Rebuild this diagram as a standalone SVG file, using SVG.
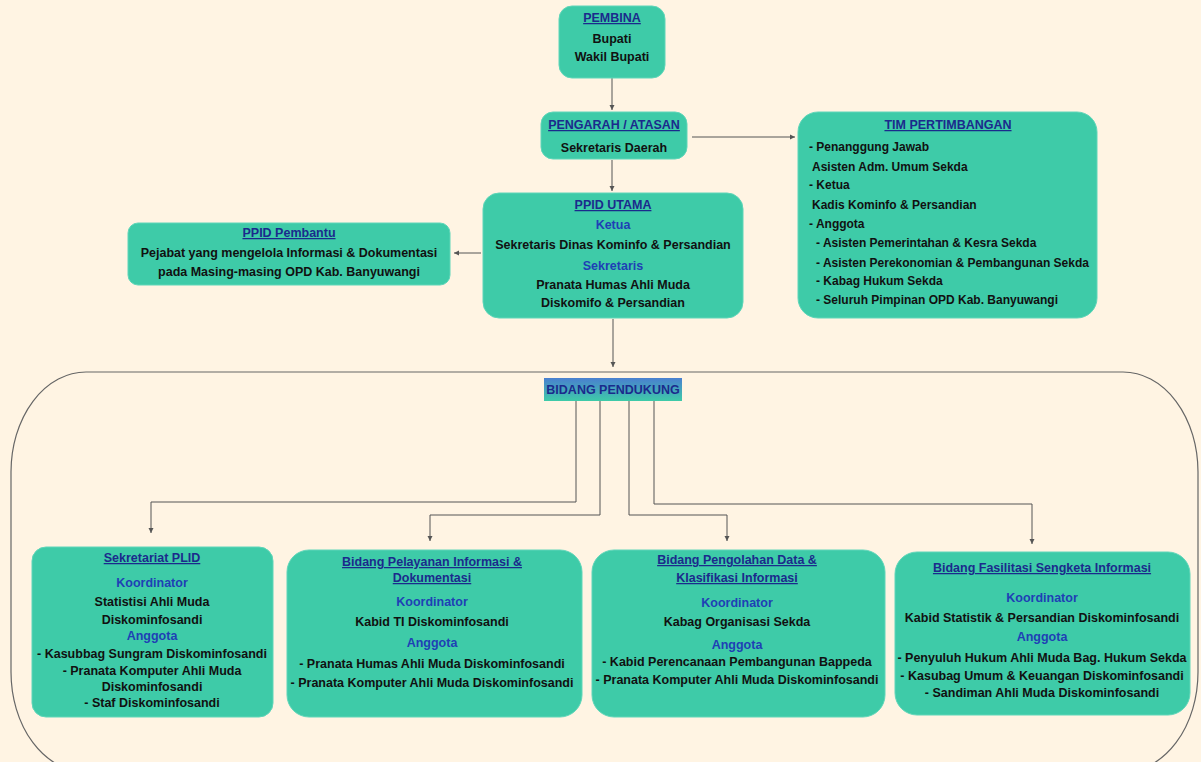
<svg xmlns="http://www.w3.org/2000/svg" width="1201" height="762" viewBox="0 0 1201 762">
<defs>
<marker id="ah" markerWidth="6" markerHeight="6" refX="5" refY="3" orient="auto" markerUnits="userSpaceOnUse">
<path d="M0,0.5 L5,3 L0,5.5 Z" fill="#555"/>
</marker>
<linearGradient id="lg" x1="0" y1="0" x2="0" y2="1">
<stop offset="0" stop-color="#4a7fd0"/>
<stop offset="1" stop-color="#3ecba8"/>
</linearGradient>
<style>
.bx{fill:#3ecba8;stroke:#5fd6b9;stroke-width:1}
.t{font-family:"Liberation Sans",Arial,sans-serif;font-weight:bold;font-size:12.5px;fill:#111;text-anchor:middle}
.l{text-anchor:start;font-size:12px}
.h{fill:#1b2a8c;text-decoration:underline}
.s{fill:#1f3fb5}
.c{fill:none;stroke:#555;stroke-width:1}
</style>
</defs>
<rect width="1201" height="762" fill="#fff4e3"/>
<g id="container">
<rect x="11" y="372" width="1187" height="400" rx="75" ry="100" fill="none" stroke="#666" stroke-width="1.2"/>
</g>
<g id="connectors">
<line class="c" x1="612" y1="78" x2="612" y2="110" marker-end="url(#ah)"/>
<line class="c" x1="692" y1="137" x2="795" y2="137" marker-end="url(#ah)"/>
<line class="c" x1="612" y1="160" x2="612" y2="191" marker-end="url(#ah)"/>
<line class="c" x1="481" y1="253" x2="454" y2="253" marker-end="url(#ah)"/>
<line class="c" x1="613" y1="319" x2="613" y2="367" marker-end="url(#ah)"/>
<polyline class="c" points="576,401 576,502 151,502 151,533" marker-end="url(#ah)"/>
<polyline class="c" points="600,401 600,515 430,515 430,541" marker-end="url(#ah)"/>
<polyline class="c" points="629,401 629,515 727,515 727,541" marker-end="url(#ah)"/>
<polyline class="c" points="654,401 654,504 1032,504 1032,544" marker-end="url(#ah)"/>
</g>
<g id="pembina">
<rect class="bx" x="559" y="6" width="106" height="72" rx="13"/>
<text class="t h" x="612" y="22">PEMBINA</text>
<text class="t" x="612" y="43">Bupati</text>
<text class="t" x="612" y="61">Wakil Bupati</text>
</g>
<g id="pengarah">
<rect class="bx" x="541" y="112" width="146" height="47" rx="12"/>
<text class="t h" x="614" y="129">PENGARAH / ATASAN</text>
<text class="t" x="614" y="152">Sekretaris Daerah</text>
</g>
<g id="tim">
<rect class="bx" x="798" y="112" width="299" height="206" rx="20"/>
<text class="t h" x="948" y="129">TIM PERTIMBANGAN</text>
<text class="t l" x="809" y="151">- Penanggung Jawab</text>
<text class="t l" x="812" y="171">Asisten Adm. Umum Sekda</text>
<text class="t l" x="809" y="189">- Ketua</text>
<text class="t l" x="812" y="209">Kadis Kominfo &amp; Persandian</text>
<text class="t l" x="809" y="228">- Anggota</text>
<text class="t l" x="816" y="247">- Asisten Pemerintahan &amp; Kesra Sekda</text>
<text class="t l" x="816" y="267">- Asisten Perekonomian &amp; Pembangunan Sekda</text>
<text class="t l" x="816" y="285">- Kabag Hukum Sekda</text>
<text class="t l" x="816" y="304">- Seluruh Pimpinan OPD Kab. Banyuwangi</text>
</g>
<g id="ppid-utama">
<rect class="bx" x="483" y="193" width="260" height="125" rx="16"/>
<text class="t h" x="613" y="209">PPID UTAMA</text>
<text class="t s" x="613" y="229">Ketua</text>
<text class="t" x="613" y="249">Sekretaris Dinas Kominfo &amp; Persandian</text>
<text class="t s" x="613" y="270">Sekretaris</text>
<text class="t" x="613" y="289">Pranata Humas Ahli Muda</text>
<text class="t" x="613" y="307">Diskomifo &amp; Persandian</text>
</g>
<g id="ppid-pembantu">
<rect class="bx" x="128" y="223" width="322" height="62" rx="10"/>
<text class="t h" x="289" y="237">PPID Pembantu</text>
<text class="t" x="289" y="257">Pejabat yang mengelola Informasi &amp; Dokumentasi</text>
<text class="t" x="289" y="276">pada Masing-masing OPD Kab. Banyuwangi</text>
</g>
<g id="bidang-pendukung">
<rect x="544" y="378" width="138" height="23" fill="url(#lg)"/>
<text class="t" x="613" y="394" style="fill:#1b2a8c">BIDANG PENDUKUNG</text>
</g>
<g id="sekretariat">
<rect class="bx" x="32" y="547" width="241" height="170" rx="14"/>
<text class="t h" x="152" y="562">Sekretariat PLID</text>
<text class="t s" x="152" y="587">Koordinator</text>
<text class="t" x="152" y="606">Statistisi Ahli Muda</text>
<text class="t" x="152" y="624">Diskominfosandi</text>
<text class="t s" x="152" y="640">Anggota</text>
<text class="t" x="152" y="658">- Kasubbag Sungram Diskominfosandi</text>
<text class="t" x="152" y="675">- Pranata Komputer Ahli Muda</text>
<text class="t" x="152" y="691">Diskominfosandi</text>
<text class="t" x="152" y="707">- Staf Diskominfosandi</text>
</g>
<g id="pelayanan">
<rect class="bx" x="287" y="550" width="295" height="167" rx="22"/>
<text class="t h" x="432" y="566">Bidang Pelayanan Informasi &amp;</text>
<text class="t h" x="432" y="582">Dokumentasi</text>
<text class="t s" x="432" y="606">Koordinator</text>
<text class="t" x="432" y="626">Kabid TI Diskominfosandi</text>
<text class="t s" x="432" y="647">Anggota</text>
<text class="t" x="432" y="668">- Pranata Humas Ahli Muda Diskominfosandi</text>
<text class="t" x="432" y="687">- Pranata Komputer Ahli Muda Diskominfosandi</text>
</g>
<g id="pengolahan">
<rect class="bx" x="592" y="550" width="293" height="167" rx="22"/>
<text class="t h" x="737" y="564">Bidang Pengolahan Data &amp;</text>
<text class="t h" x="737" y="582">Klasifikasi Informasi</text>
<text class="t s" x="737" y="607">Koordinator</text>
<text class="t" x="737" y="626">Kabag Organisasi Sekda</text>
<text class="t s" x="737" y="649">Anggota</text>
<text class="t" x="737" y="666">- Kabid Perencanaan Pembangunan Bappeda</text>
<text class="t" x="737" y="684">- Pranata Komputer Ahli Muda Diskominfosandi</text>
</g>
<g id="fasilitasi">
<rect class="bx" x="895" y="552" width="295" height="163" rx="22"/>
<text class="t h" x="1042" y="572">Bidang Fasilitasi Sengketa Informasi</text>
<text class="t s" x="1042" y="602">Koordinator</text>
<text class="t" x="1042" y="622">Kabid Statistik &amp; Persandian Diskominfosandi</text>
<text class="t s" x="1042" y="641">Anggota</text>
<text class="t" x="1042" y="662">- Penyuluh Hukum Ahli Muda Bag. Hukum Sekda</text>
<text class="t" x="1042" y="680">- Kasubag Umum &amp; Keuangan Diskominfosandi</text>
<text class="t" x="1042" y="697">- Sandiman Ahli Muda Diskominfosandi</text>
</g>
</svg>
